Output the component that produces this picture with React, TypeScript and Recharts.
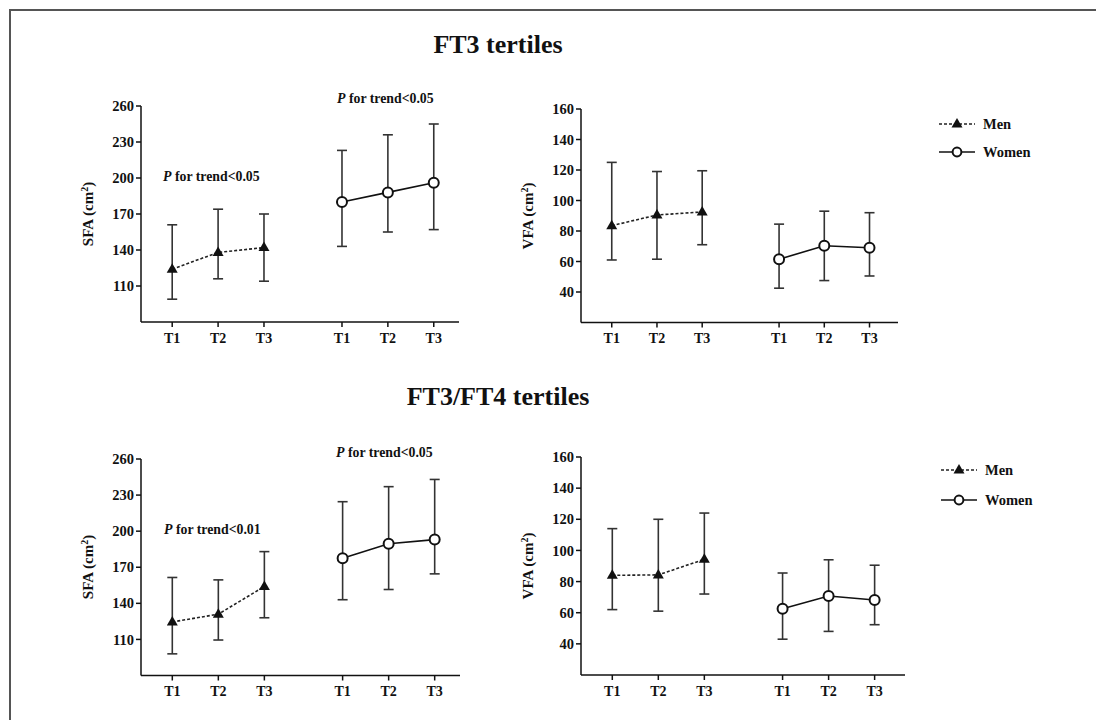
import { LineChart, Line, XAxis, YAxis, ErrorBar } from "recharts";

const tertiles = ["T1", "T2", "T3"];
const menX = [1, 2, 3];
const womenX = [4.7, 5.7, 6.7];

const sfaTicks = [110, 140, 170, 200, 230, 260];
const vfaTicks = [40, 60, 80, 100, 120, 140, 160];

// FT3 tertiles - SFA
const ft3SfaMenMean = [124, 138, 142];
const ft3SfaMenLow = [99, 116, 114];
const ft3SfaMenHigh = [161, 174, 170];
const ft3SfaWomenMean = [180, 188, 196];
const ft3SfaWomenLow = [143, 155, 157];
const ft3SfaWomenHigh = [223, 236, 245];

// FT3 tertiles - VFA
const ft3VfaMenMean = [83.5, 90.5, 92.5];
const ft3VfaMenLow = [61, 61.5, 71];
const ft3VfaMenHigh = [125, 119, 119.5];
const ft3VfaWomenMean = [61.5, 70.3, 69];
const ft3VfaWomenLow = [42.5, 47.5, 50.5];
const ft3VfaWomenHigh = [84.5, 93, 92];

// FT3/FT4 tertiles - SFA
const ratioSfaMenMean = [124.5, 131, 154];
const ratioSfaMenLow = [98, 109.5, 128];
const ratioSfaMenHigh = [161.5, 159.5, 183];
const ratioSfaWomenMean = [177.5, 189.5, 193];
const ratioSfaWomenLow = [143, 151.5, 164.5];
const ratioSfaWomenHigh = [224.5, 237, 243];

// FT3/FT4 tertiles - VFA
const ratioVfaMenMean = [84, 84.3, 94.3];
const ratioVfaMenLow = [62, 61, 72];
const ratioVfaMenHigh = [114, 120, 124];
const ratioVfaWomenMean = [62.6, 70.7, 68.2];
const ratioVfaWomenLow = [43, 48, 52.3];
const ratioVfaWomenHigh = [85.5, 94, 90.5];

const FONT = "'Liberation Serif', 'Times New Roman', serif";
const INK = "#111";

function buildRows(
  menMean: number[], menLow: number[], menHigh: number[],
  womenMean: number[], womenLow: number[], womenHigh: number[]
) {
  const rows: any[] = [];
  menX.forEach((x, i) =>
    rows.push({ x, men: menMean[i], menErr: [menMean[i] - menLow[i], menHigh[i] - menMean[i]] })
  );
  womenX.forEach((x, i) =>
    rows.push({ x, women: womenMean[i], womenErr: [womenMean[i] - womenLow[i], womenHigh[i] - womenMean[i]] })
  );
  return rows;
}

const allX = [...menX, ...womenX];
const xLabel = (v: number) => {
  const i = allX.findIndex((x) => Math.abs(x - v) < 0.01);
  return i < 0 ? "" : tertiles[i % 3];
};

function Triangle(props: any) {
  const { cx, cy, index } = props;
  if (cx == null || cy == null) return <g key={`t${index}`} />;
  return (
    <polygon
      key={`t${index}`}
      points={`${cx},${cy - 6} ${cx - 5.5},${cy + 3.5} ${cx + 5.5},${cy + 3.5}`}
      fill={INK}
    />
  );
}

function OpenCircle(props: any) {
  const { cx, cy, index } = props;
  if (cx == null || cy == null) return <g key={`c${index}`} />;
  return <circle key={`c${index}`} cx={cx} cy={cy} r={5} fill="#fff" stroke={INK} strokeWidth={2} />;
}

interface PanelProps {
  x0: number;
  y0: number;
  plotW: number;
  plotH: number;
  xMax: number;
  domain: [number, number];
  ticks: number[];
  rows: any[];
  yLabel: string;
}

function Panel({ x0, y0, plotW, plotH, xMax, domain, ticks, rows, yLabel }: PanelProps) {
  const yw = 81;
  return (
    <>
      <div style={{ position: "absolute", left: x0, top: y0 }}>
        <LineChart
          width={yw + plotW + 10}
          height={10 + plotH + 30}
          data={rows}
          margin={{ top: 10, right: 10, bottom: 0, left: 0 }}
        >
          <XAxis
            type="number"
            dataKey="x"
            domain={[0.32, xMax]}
            ticks={allX}
            interval={0}
            allowDataOverflow
            tickFormatter={xLabel}
            height={30}
            tickSize={5}
            tickMargin={6}
            axisLine={{ stroke: INK, strokeWidth: 1.5 }}
            tickLine={{ stroke: INK, strokeWidth: 1.5 }}
            tick={{ fill: INK, fontSize: 14, fontWeight: "bold", fontFamily: FONT }}
          />
          <YAxis
            type="number"
            domain={domain}
            ticks={ticks}
            interval={0}
            allowDataOverflow
            width={yw}
            tickSize={5}
            tickMargin={2}
            axisLine={{ stroke: INK, strokeWidth: 1.5 }}
            tickLine={{ stroke: INK, strokeWidth: 1.5 }}
            tick={{ fill: INK, fontSize: 14.5, fontWeight: "bold", fontFamily: FONT }}
          />
          <Line
            dataKey="men"
            stroke="#222"
            strokeWidth={1.6}
            strokeDasharray="3 2"
            dot={Triangle}
            activeDot={false}
            isAnimationActive={false}
          >
            <ErrorBar dataKey="menErr" direction="y" width={5} stroke="#333" strokeWidth={1.6} />
          </Line>
          <Line
            dataKey="women"
            stroke={INK}
            strokeWidth={1.6}
            dot={OpenCircle}
            activeDot={false}
            isAnimationActive={false}
          >
            <ErrorBar dataKey="womenErr" direction="y" width={5} stroke="#333" strokeWidth={1.6} />
          </Line>
        </LineChart>
      </div>
      <div
        style={{
          position: "absolute",
          left: x0 + 28,
          top: y0 + 10 + plotH / 2,
          transform: "translate(-50%, -50%) rotate(-90deg)",
          whiteSpace: "nowrap",
          fontFamily: FONT,
          fontWeight: "bold",
          fontSize: 15,
          color: INK,
        }}
      >
        {yLabel} (cm<sup style={{ fontSize: 10, verticalAlign: "top", lineHeight: 1 }}>2</sup>)
      </div>
    </>
  );
}

function TrendNote({ left, cy, text }: { left: number; cy: number; text: string }) {
  return (
    <div
      style={{
        position: "absolute",
        left,
        top: cy - 8,
        lineHeight: "16px",
        fontFamily: FONT,
        fontWeight: "bold",
        fontSize: 13.8,
        color: INK,
        whiteSpace: "nowrap",
      }}
    >
      <i>P</i> {text}
    </div>
  );
}

function LegendBox({ left, menY, womenY }: { left: number; menY: number; womenY: number }) {
  const text = { position: "absolute" as const, left: left + 44, fontFamily: FONT, fontWeight: "bold" as const, fontSize: 14.5, color: INK, lineHeight: "16px" };
  return (
    <>
      <svg style={{ position: "absolute", left, top: menY - 7 }} width={36} height={14}>
        <line x1={0} y1={7} x2={36} y2={7} stroke="#222" strokeWidth={1.5} strokeDasharray="3 2" />
        <polygon points="18,1 12.5,10.5 23.5,10.5" fill={INK} />
      </svg>
      <div style={{ ...text, top: menY - 8 }}>Men</div>
      <svg style={{ position: "absolute", left, top: womenY - 7 }} width={36} height={14}>
        <line x1={0} y1={7} x2={36} y2={7} stroke={INK} strokeWidth={1.6} />
        <circle cx={18} cy={7} r={4.4} fill="#fff" stroke={INK} strokeWidth={2} />
      </svg>
      <div style={{ ...text, top: womenY - 8 }}>Women</div>
    </>
  );
}

function Title({ cy, text }: { cy: number; text: string }) {
  return (
    <div
      style={{
        position: "absolute",
        left: 0,
        width: 996,
        top: cy - 15,
        lineHeight: "30px",
        textAlign: "center",
        fontFamily: FONT,
        fontWeight: "bold",
        fontSize: 26,
        color: INK,
      }}
    >
      {text}
    </div>
  );
}

export default function App() {
  return (
    <div
      style={{
        position: "absolute",
        left: 0,
        top: 0,
        width: 1096,
        height: 720,
        background: "#fff",
        overflow: "hidden",
      }}
    >
      <div style={{ position: "absolute", left: 9, top: 9, width: 1087, height: 2, background: "#555" }} />
      <div style={{ position: "absolute", left: 9, top: 9, width: 2, height: 711, background: "#555" }} />
      <Title cy={45} text="FT3 tertiles" />
      <Title cy={397} text="FT3/FT4 tertiles" />

      <Panel
        x0={60} y0={96} plotW={318} plotH={216} xMax={7.25}
        domain={[80, 260]} ticks={sfaTicks} yLabel="SFA"
        rows={buildRows(ft3SfaMenMean, ft3SfaMenLow, ft3SfaMenHigh, ft3SfaWomenMean, ft3SfaWomenLow, ft3SfaWomenHigh)}
      />
      <Panel
        x0={500} y0={99} plotW={317} plotH={213.5} xMax={7.33}
        domain={[20, 160]} ticks={vfaTicks} yLabel="VFA"
        rows={buildRows(ft3VfaMenMean, ft3VfaMenLow, ft3VfaMenHigh, ft3VfaWomenMean, ft3VfaWomenLow, ft3VfaWomenHigh)}
      />
      <Panel
        x0={60} y0={449} plotW={319} plotH={216.5} xMax={7.25}
        domain={[80, 260]} ticks={sfaTicks} yLabel="SFA"
        rows={buildRows(ratioSfaMenMean, ratioSfaMenLow, ratioSfaMenHigh, ratioSfaWomenMean, ratioSfaWomenLow, ratioSfaWomenHigh)}
      />
      <Panel
        x0={500} y0={447} plotW={324} plotH={218} xMax={7.36}
        domain={[20, 160]} ticks={vfaTicks} yLabel="VFA"
        rows={buildRows(ratioVfaMenMean, ratioVfaMenLow, ratioVfaMenHigh, ratioVfaWomenMean, ratioVfaWomenLow, ratioVfaWomenHigh)}
      />

      <TrendNote left={163} cy={177} text="for trend<0.05" />
      <TrendNote left={337} cy={99} text="for trend<0.05" />
      <TrendNote left={164} cy={530} text="for trend<0.01" />
      <TrendNote left={336} cy={453} text="for trend<0.05" />

      <LegendBox left={939} menY={124} womenY={152} />
      <LegendBox left={941} menY={470} womenY={500} />
    </div>
  );
}
